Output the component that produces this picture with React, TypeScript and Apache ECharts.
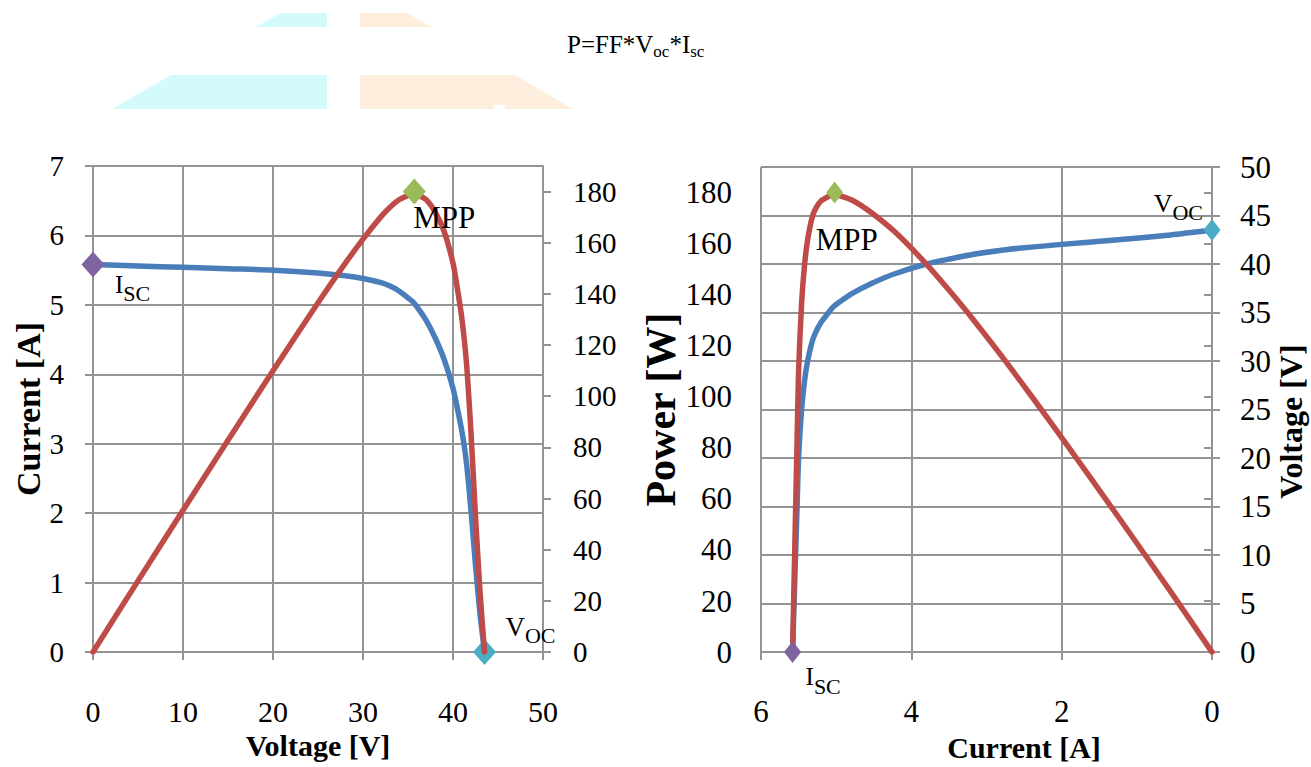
import React, { useEffect, useRef } from 'react';
import * as echarts from 'echarts';

// ---- Data (PV module characteristics) ----
const voltage = [0, 5, 10, 15, 20, 25, 28, 30, 32, 33, 34, 35, 35.5, 36, 37, 38, 39, 40, 40.5, 41, 41.5, 42, 42.5, 43, 43.5];
const current = [5.58, 5.56, 5.54, 5.52, 5.5, 5.46, 5.42, 5.38, 5.32, 5.27, 5.2, 5.1, 5.05, 4.97, 4.78, 4.53, 4.22, 3.8, 3.5, 3.17, 2.72, 2.04, 1.25, 0.55, 0];
const power = [0, 27.8, 55.4, 82.8, 110, 136.5, 151.8, 161.4, 170.2, 173.9, 176.8, 178.5, 179.3, 178.9, 176.9, 172.1, 164.6, 152, 141.8, 130, 112.9, 85.7, 53.1, 23.7, 0];

// special points: Isc, MPP, Voc
const markerVoltage = [0, 35.7, 43.5];
const markerCurrent = [5.58, 5.02, 0];
const markerPower = [0, 180, 0];

// tick values
const powerTicks = [0, 20, 40, 60, 80, 100, 120, 140, 160, 180];

const FONT = 'Liberation Serif';
const GRID_COLOR = '#939393';
const BLUE = '#4a7ebb';
const RED = '#be4b48';
const PURPLE = '#8064a2';
const GREEN = '#9bbb59';
const TEAL = '#4bacc6';

function lineW() {
  return { color: GRID_COLOR, width: 2 };
}

function tickLabel(fontSize: number, margin: number, extra: any = {}) {
  return { margin, color: '#000', fontFamily: FONT, fontSize, ...extra };
}

function subLabel(main: string, sub: string, mainSize: number, subSize: number, offset: number[], align = 'left') {
  return {
    show: true,
    position: 'inside',
    align,
    verticalAlign: 'top',
    offset,
    formatter: `{a|${main}}{b|${sub}}`,
    rich: {
      a: { fontFamily: FONT, fontSize: mainSize, lineHeight: mainSize + 2, color: '#000', verticalAlign: 'top' },
      b: { fontFamily: FONT, fontSize: subSize, lineHeight: subSize + 1, color: '#000', padding: [11, 0, 0, 0], verticalAlign: 'top' },
    },
  };
}

function plainLabel(text: string, size: number, offset: number[]) {
  return {
    show: true,
    position: 'inside',
    align: 'left',
    verticalAlign: 'top',
    offset,
    formatter: text,
    fontFamily: FONT,
    fontSize: size,
    lineHeight: size,
    color: '#000',
  };
}

export default function App() {
  const ref = useRef<HTMLDivElement>(null);

  useEffect(() => {
    if (!ref.current) return;
    const chart = echarts.init(ref.current, null, { renderer: 'svg' });

    const ivPairs = voltage.map((v, k) => [v, current[k]]);
    const pvPairs = voltage.map((v, k) => [v, power[k]]);
    const viPairs = voltage.map((v, k) => [current[k], v]);
    const piPairs = voltage.map((v, k) => [current[k], power[k]]);

    const lineSeries = (color: string, data: number[][], xi: number, yi: number, z = 2) => ({
      type: 'line',
      xAxisIndex: xi,
      yAxisIndex: yi,
      data,
      showSymbol: false,
      smooth: 0.25,
      lineStyle: { color, width: 5.5, cap: 'round', join: 'round' },
      z,
      silent: true,
    });

    const pointSeries = (color: string, point: number[], xi: number, yi: number, size: number[], label: any) => ({
      type: 'scatter',
      xAxisIndex: xi,
      yAxisIndex: yi,
      data: [point],
      symbol: 'diamond',
      symbolSize: size,
      itemStyle: { color, opacity: 1 },
      label,
      z: 4,
      silent: true,
    });

    const boldName = (size: number, extra: any = {}) => ({
      fontFamily: FONT,
      fontSize: size,
      fontWeight: 'bold',
      color: '#000',
      ...extra,
    });

    const axisLineOpt = () => ({ show: true, lineStyle: lineW() });
    const axisTickOpt = (extra: any = {}) => ({ show: true, inside: false, length: 8, lineStyle: lineW(), ...extra });

    const option: any = {
      animation: false,
      backgroundColor: '#ffffff',
      title: {
        text: '{m|P=FF*V}{s|oc}{m|*I}{s|sc}',
        left: 567,
        top: 32,
        padding: 0,
        textStyle: {
          fontFamily: FONT,
          fontWeight: 'normal',
          rich: {
            m: { fontFamily: FONT, fontWeight: 'normal', fontSize: 25, lineHeight: 28, color: '#000', verticalAlign: 'top' },
            s: { fontFamily: FONT, fontWeight: 'normal', fontSize: 17, lineHeight: 18, color: '#000', padding: [11, 0, 0, 0], verticalAlign: 'top' },
          },
        },
      },
      graphic: [
        { type: 'polygon', shape: { points: [[281, 13], [327, 13], [327, 27], [256, 27]] }, style: { fill: '#d4fbfb' }, silent: true },
        { type: 'polygon', shape: { points: [[171, 75], [327, 75], [327, 109], [112, 109]] }, style: { fill: '#d4fbfb' }, silent: true },
        { type: 'polygon', shape: { points: [[360, 13], [407, 13], [432, 27], [360, 27]] }, style: { fill: '#fdeedd' }, silent: true },
        { type: 'polygon', shape: { points: [[360, 75], [515, 75], [573, 109], [505, 109], [505, 105], [494, 105], [494, 109], [360, 109]] }, style: { fill: '#fdeedd' }, silent: true },
      ],
      grid: [
        { left: 93, top: 166, width: 450, height: 486 },
        { left: 761, top: 167, width: 451, height: 486 },
      ],
      xAxis: [
        {
          type: 'value',
          gridIndex: 0,
          min: 0,
          max: 50,
          interval: 10,
          axisLine: axisLineOpt(),
          axisTick: axisTickOpt(),
          splitLine: { show: true, lineStyle: lineW() },
          axisLabel: tickLabel(30, 44),
          name: 'Voltage [V]',
          nameLocation: 'middle',
          nameGap: 78,
          nameTextStyle: boldName(30),
        },
        {
          type: 'value',
          gridIndex: 1,
          min: 0,
          max: 6,
          interval: 2,
          inverse: true,
          axisLine: axisLineOpt(),
          axisTick: axisTickOpt(),
          splitLine: { show: true, lineStyle: lineW() },
          axisLabel: tickLabel(31, 44),
          name: 'Current [A]',
          nameLocation: 'middle',
          nameGap: 76,
          nameTextStyle: boldName(30, { padding: [0, 0, 0, 75] }),
        },
      ],
      yAxis: [
        {
          type: 'value',
          gridIndex: 0,
          min: 0,
          max: 7,
          interval: 1,
          axisLine: axisLineOpt(),
          axisTick: axisTickOpt(),
          splitLine: { show: true, lineStyle: lineW() },
          axisLabel: tickLabel(29, 29),
          name: 'Current [A]',
          nameLocation: 'middle',
          nameGap: 48,
          nameTextStyle: boldName(34),
        },
        {
          type: 'value',
          gridIndex: 0,
          min: 0,
          max: 190,
          axisLine: axisLineOpt(),
          axisTick: axisTickOpt({ customValues: powerTicks }),
          splitLine: { show: false },
          axisLabel: tickLabel(29, 30, { customValues: powerTicks }),
        },
        {
          type: 'value',
          gridIndex: 1,
          min: 0,
          max: 190,
          axisLine: axisLineOpt(),
          axisTick: axisTickOpt({ customValues: powerTicks }),
          splitLine: { show: false },
          axisLabel: tickLabel(31, 29, { customValues: powerTicks }),
          name: 'Power [W]',
          nameLocation: 'middle',
          nameGap: 77,
          nameTextStyle: boldName(42),
        },
        {
          type: 'value',
          gridIndex: 1,
          min: 0,
          max: 50,
          interval: 5,
          axisLine: axisLineOpt(),
          axisTick: axisTickOpt(),
          splitLine: { show: true, lineStyle: lineW() },
          axisLabel: tickLabel(31, 28),
          name: 'Voltage [V]',
          nameLocation: 'middle',
          nameGap: 56,
          nameTextStyle: boldName(32, { padding: [0, 24, 0, 0] }),
        },
      ],
      series: [
        // left chart: I-V and P-V
        lineSeries(BLUE, ivPairs, 0, 0, 2),
        lineSeries(RED, pvPairs, 0, 1, 3),
        pointSeries(PURPLE, [markerVoltage[0], markerCurrent[0]], 0, 0, [23, 26], subLabel('I', 'SC', 25, 22, [22, 7])),
        pointSeries(GREEN, [markerVoltage[1], markerPower[1]], 0, 1, [23, 26], plainLabel('MPP', 31, [-1, 10])),
        { ...pointSeries(TEAL, [markerVoltage[2], markerCurrent[2]], 0, 0, [23, 26], subLabel('V', 'OC', 27, 22, [21, -39])), z: 1 },
        // right chart: V-I and P-I
        lineSeries(BLUE, viPairs, 1, 3, 2),
        lineSeries(RED, piPairs, 1, 2, 3),
        pointSeries(PURPLE, [markerCurrent[0], markerPower[0]], 1, 2, [17, 22], subLabel('I', 'SC', 25, 22, [13, 12])),
        pointSeries(GREEN, [markerCurrent[1], markerPower[1]], 1, 2, [17, 22], plainLabel('MPP', 31, [-19, 31])),
        pointSeries(TEAL, [markerCurrent[2], markerVoltage[2]], 1, 3, [17, 22], subLabel('V', 'OC', 26, 22, [-9, -40], 'right')),
      ],
    };

    chart.setOption(option);
    return () => chart.dispose();
  }, []);

  return (
    <div
      ref={ref}
      style={{ position: 'fixed', left: 0, top: 0, width: 1311, height: 767, background: '#fff' }}
    />
  );
}
